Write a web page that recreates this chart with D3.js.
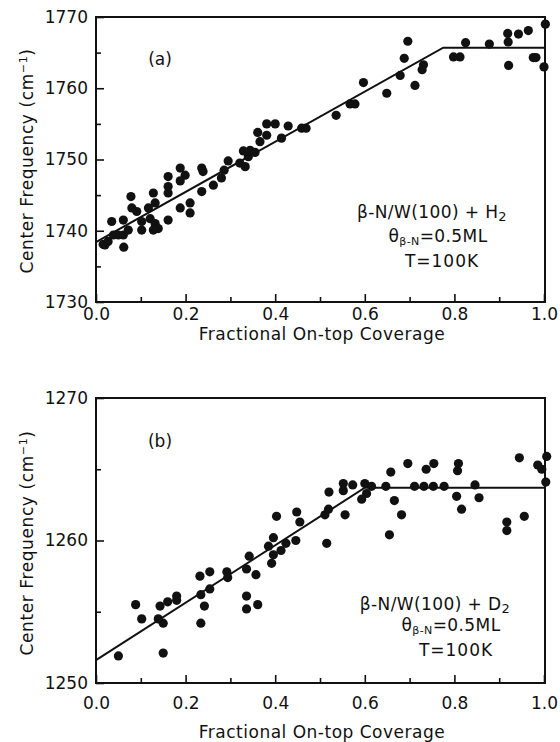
<!DOCTYPE html>
<html><head><meta charset="utf-8">
<script src="https://cdn.jsdelivr.net/npm/d3@7"></script>
<style>body{margin:0;background:#fff}svg{display:block}text{font-family:"DejaVu Sans",sans-serif;fill:#111}</style>
</head><body>
<script>
// ---- data ----
const xTickValues = [0, 0.2, 0.4, 0.6, 0.8, 1.0];
const xTickLabels = ["0.0", "0.2", "0.4", "0.6", "0.8", "1.0"];
const xMinorTicks = [0.1, 0.3, 0.5, 0.7, 0.9];
const yTicksA = [1730, 1740, 1750, 1760, 1770];
const yMinorA = [1735, 1745, 1755, 1765];
const yTicksB = [1250, 1260, 1270];
const yMinorB = [1255, 1265];

const coverageA = [0.020,0.016,0.027,0.035,0.039,0.050,0.061,0.072,0.061,0.062,0.078,0.080,0.091,0.102,0.102,0.117,0.121,0.128,0.132,0.132,0.139,0.128,0.161,0.161,0.161,0.161,0.188,0.199,0.188,0.188,0.210,0.210,0.236,0.236,0.239,0.262,0.280,0.286,0.295,0.321,0.333,0.340,0.329,0.344,0.355,0.366,0.361,0.381,0.381,0.400,0.414,0.429,0.459,0.469,0.536,0.567,0.578,0.597,0.649,0.679,0.688,0.696,0.712,0.728,0.731,0.798,0.8125,0.825,0.878,0.919,0.920,0.921,0.943,0.965,0.976,0.982,1.003,1.0];
const freqA = [1738.0,1738.1,1738.5,1741.3,1739.4,1739.4,1739.4,1740.1,1741.5,1737.7,1744.8,1743.2,1742.7,1741.3,1740.1,1743.2,1741.7,1745.3,1743.9,1741.0,1740.3,1740.1,1747.6,1746.2,1745.3,1741.5,1748.8,1747.8,1747.0,1743.2,1743.9,1742.5,1745.5,1748.8,1748.3,1746.4,1747.4,1748.5,1749.8,1749.5,1749.0,1750.4,1751.2,1751.3,1751.0,1752.5,1753.8,1753.4,1755.0,1755.0,1753.0,1754.7,1754.4,1754.4,1756.2,1757.8,1757.8,1760.8,1759.3,1761.8,1764.2,1766.6,1760.4,1762.6,1763.3,1764.4,1764.4,1766.4,1766.2,1767.7,1766.5,1763.2,1767.6,1768.1,1764.3,1764.3,1769.0,1763.0];

const coverageB = [0.05,0.0885,0.102,0.139,0.143,0.15,0.15,0.16,0.18,0.18,0.232,0.234,0.234,0.242,0.254,0.254,0.292,0.294,0.336,0.336,0.336,0.342,0.357,0.361,0.385,0.392,0.396,0.396,0.403,0.413,0.424,0.446,0.448,0.455,0.511,0.519,0.515,0.520,0.552,0.552,0.556,0.573,0.593,0.600,0.604,0.615,0.647,0.655,0.658,0.666,0.682,0.696,0.711,0.732,0.737,0.753,0.754,0.777,0.805,0.807,0.809,0.816,0.846,0.855,0.917,0.917,0.945,0.956,0.986,0.995,1.004,1.006];
const freqB = [1251.9,1255.5,1254.5,1254.5,1255.4,1254.2,1252.1,1255.7,1256.1,1255.8,1257.5,1256.2,1254.2,1255.4,1257.8,1256.6,1257.8,1257.4,1258.0,1256.1,1255.2,1258.9,1257.6,1255.5,1259.6,1258.4,1259.0,1260.2,1261.7,1259.3,1259.8,1260.0,1262.0,1261.3,1261.8,1262.2,1259.8,1263.4,1264.0,1263.5,1261.8,1263.9,1262.9,1264.0,1263.3,1263.8,1263.8,1260.4,1264.8,1262.8,1261.8,1265.4,1263.8,1263.8,1265.0,1263.8,1265.4,1263.8,1263.1,1264.9,1265.4,1262.2,1263.9,1263.0,1261.3,1260.7,1265.8,1261.7,1265.3,1265.0,1264.1,1265.9];

const fitXA = [0, 0.775, 1.0];
const fitYA = [1738.4, 1765.7, 1765.7];
const fitXB = [0, 0.6, 1.0];
const fitYB = [1251.6, 1263.7, 1263.7];

// ---- drawing ----
const W = 560, H = 742;
const svg = d3.select("body").append("svg").attr("width", W).attr("height", H);

const panels = [
  {top: 17, bottom: 302, dom: [1730, 1770], ticks: yTicksA, minor: yMinorA, xs: coverageA, ys: freqA,
   fx: fitXA, fy: fitYA, tag: "(a)", tagY: 65, gas: "H", ylabelY: 161, xPad: 6, xLabY: 340,
   legend: [{x: 432, y: 218}, {x: 438, y: 242}, {x: 442, y: 267}]},
  {top: 398, bottom: 683, dom: [1250, 1270], ticks: yTicksB, minor: yMinorB, xs: coverageB, ys: freqB,
   fx: fitXB, fy: fitYB, tag: "(b)", tagY: 447, gas: "D", ylabelY: 543, xPad: 14, xLabY: 738,
   legend: [{x: 435, y: 610}, {x: 451, y: 631}, {x: 456, y: 656}]}
];

const left = 96, right = 544;
const x = d3.scaleLinear().domain([0, 1]).range([left, right]);

panels.forEach(p => {
  const y = d3.scaleLinear().domain(p.dom).range([p.bottom, p.top]);
  const g = svg.append("g");

  g.append("rect").attr("x", left).attr("y", p.top).attr("width", right + 1 - left).attr("height", p.bottom - p.top)
    .attr("fill", "none").attr("stroke", "#111").attr("stroke-width", 2);

  const xa = g.append("g").attr("transform", `translate(0,${p.bottom})`)
    .call(d3.axisBottom(x).tickValues(xTickValues).tickFormat((d, i) => xTickLabels[i]).tickSize(-8).tickPadding(p.xPad));
  xa.select(".domain").remove();
  xa.selectAll("line").attr("stroke", "#111").attr("stroke-width", 1.6);
  xa.selectAll("text").attr("font-size", 17).attr("font-family", "DejaVu Sans").attr("fill", "#111");
  const xm = g.append("g").attr("transform", `translate(0,${p.bottom})`)
    .call(d3.axisBottom(x).tickValues(xMinorTicks).tickFormat("").tickSize(-5));
  xm.select(".domain").remove();
  xm.selectAll("line").attr("stroke", "#111").attr("stroke-width", 1.6);

  const ya = g.append("g").attr("transform", `translate(${left},0)`)
    .call(d3.axisLeft(y).tickValues(p.ticks).tickFormat(d3.format("d")).tickSize(-8).tickPadding(8));
  ya.select(".domain").remove();
  ya.selectAll("line").attr("stroke", "#111").attr("stroke-width", 1.6);
  ya.selectAll("text").attr("font-size", 17).attr("font-family", "DejaVu Sans").attr("fill", "#111");
  const ym = g.append("g").attr("transform", `translate(${left},0)`)
    .call(d3.axisLeft(y).tickValues(p.minor).tickFormat("").tickSize(-5));
  ym.select(".domain").remove();
  ym.selectAll("line").attr("stroke", "#111").attr("stroke-width", 1.6);

  const line = d3.line().x(d => x(d[0])).y(d => y(d[1]));
  g.append("path").datum(p.fx.map((v, i) => [v, p.fy[i]]))
    .attr("d", line).attr("fill", "none").attr("stroke", "#111").attr("stroke-width", 2);

  g.selectAll("circle.pt").data(p.xs.map((v, i) => [v, p.ys[i]])).enter().append("circle")
    .attr("class", "pt").attr("cx", d => x(d[0])).attr("cy", d => y(d[1])).attr("r", 4.6).attr("fill", "#111");

  g.append("text").attr("x", 160).attr("y", p.tagY).attr("text-anchor", "middle").attr("font-size", 17).text(p.tag);

  g.append("text").attr("transform", `translate(33,${p.ylabelY}) rotate(-90)`).attr("text-anchor", "middle")
    .attr("font-size", 17).attr("letter-spacing", 0.6).call(t => {
      t.append("tspan").text("Center Frequency (cm");
      t.append("tspan").attr("baseline-shift", "super").attr("font-size", 11).text("−1");
      t.append("tspan").text(")");
    });

  g.append("text").attr("x", (left + right) / 2 + 2).attr("y", p.xLabY).attr("text-anchor", "middle")
    .attr("font-size", 17).attr("letter-spacing", 0.5).text("Fractional On-top Coverage");

  const L = p.legend;
  g.append("text").attr("x", L[0].x).attr("y", L[0].y).attr("text-anchor", "middle").attr("font-size", 17)
    .attr("letter-spacing", 0.4)
    .call(t => {
      t.append("tspan").text("β-N/W(100) + " + p.gas);
      t.append("tspan").attr("dy", 3).attr("font-size", 13).text("2");
    });
  g.append("text").attr("x", L[1].x).attr("y", L[1].y).attr("text-anchor", "middle").attr("font-size", 17)
    .attr("letter-spacing", 0.4)
    .call(t => {
      t.append("tspan").text("θ");
      t.append("tspan").attr("dy", 3).attr("font-size", 11).text("β-N");
      t.append("tspan").attr("dy", -3).text("=0.5ML");
    });
  g.append("text").attr("x", L[2].x).attr("y", L[2].y).attr("text-anchor", "middle").attr("font-size", 17)
    .attr("letter-spacing", 1)
    .text("T=100K");
});
</script>
</body></html>
